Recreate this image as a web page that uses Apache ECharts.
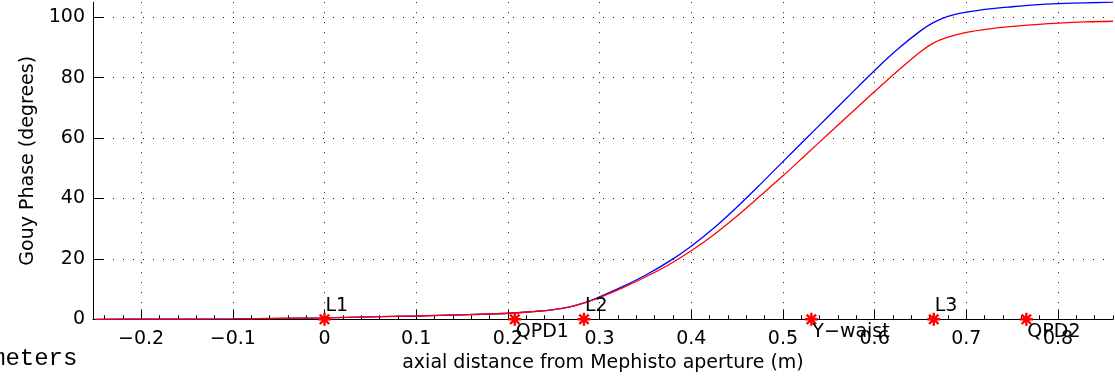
<!DOCTYPE html>
<html><head><meta charset="utf-8">
<script src="https://cdn.jsdelivr.net/npm/echarts@6/dist/echarts.min.js"></script>
<style>html,body{margin:0;padding:0;background:#fff}#c{width:1115px;height:380px}</style>
</head><body><div id="c"></div><script>
// axial distance (m)
const zPos = [-0.25, -0.2, -0.1, 0, 0.05, 0.1, 0.15, 0.2, 0.225, 0.25, 0.27, 0.283, 0.29, 0.3, 0.325, 0.35, 0.375, 0.4, 0.425, 0.45, 0.475, 0.5, 0.525, 0.55, 0.575, 0.6, 0.625, 0.65, 0.665, 0.68, 0.7, 0.725, 0.75, 0.775, 0.8, 0.83, 0.86];
// Gouy phase (degrees), blue trace
const gouyBlue = [0, 0.05, 0.15, 0.45, 0.8, 1.1, 1.5, 2.0, 2.5, 3.2, 4.3, 5.4, 6.2, 7.4, 10.8, 14.6, 19.0, 24.2, 30.3, 37.2, 44.6, 52.2, 59.8, 67.3, 74.9, 82.4, 89.4, 95.5, 98.4, 100.3, 101.7, 102.8, 103.5, 104.1, 104.5, 104.8, 105.0];
// Gouy phase (degrees), red trace
const gouyRed = [0, 0.05, 0.15, 0.45, 0.8, 1.1, 1.5, 2.0, 2.5, 3.2, 4.3, 5.4, 6.1, 7.2, 10.4, 14.0, 18.0, 22.7, 28.1, 34.2, 40.8, 47.5, 54.5, 61.5, 68.5, 75.4, 82.2, 88.6, 91.6, 93.4, 95.0, 96.2, 97.0, 97.6, 98.1, 98.5, 98.7];
// optics markers
const markerNames = ['L1', 'QPD1', 'L2', 'Y\u2212waist', 'L3', 'QPD2'];
const markerZ = [0, 0.2075, 0.283, 0.531, 0.6645, 0.7655];
// ticks
const xTickValues = [-0.2, -0.1, 0, 0.1, 0.2, 0.3, 0.4, 0.5, 0.6, 0.7, 0.8];
const xTickLabels = ['\u22120.2', '\u22120.1', '0', '0.1', '0.2', '0.3', '0.4', '0.5', '0.6', '0.7', '0.8'];
const yTickValues = [0, 20, 40, 60, 80, 100];
const yTickLabels = ['0', '20', '40', '60', '80', '100'];

const labelAbove = {'L1': true, 'L2': true, 'L3': true};
const FONT = 'DejaVu Sans';
const xMin = -0.2525, xMax = 0.86;

const minorX = [];
for (let k = -12; k <= 43; k++) { if (k % 5 !== 0) minorX.push(+(k * 0.02).toFixed(2)); }

const pairs = (ys) => zPos.map((z, i) => [z, ys[i]]);
const lookup = (vals, labels) => (v) => {
  const i = vals.findIndex(t => Math.abs(t - v) < 1e-9);
  return i >= 0 ? labels[i] : '';
};

const chart = echarts.init(document.getElementById('c'), null, {renderer: 'canvas'});
chart.setOption({
  animation: false,
  backgroundColor: '#fff',
  grid: {left: 93, top: 2.2, width: 1020, height: 317.1, containLabel: false},
  xAxis: [{
    type: 'value', min: xMin, max: xMax, position: 'bottom',
    name: 'axial distance from Mephisto aperture (m)', nameLocation: 'middle', nameGap: 31,
    nameTextStyle: {fontFamily: FONT, fontSize: 19, color: '#000'},
    axisLine: {show: true, onZero: false, lineStyle: {color: '#000', width: 1}},
    axisTick: {show: true, inside: true, length: 10, customValues: xTickValues, lineStyle: {color: '#000'}},
    axisLabel: {show: true, customValues: xTickValues, formatter: lookup(xTickValues, xTickLabels),
      fontFamily: FONT, fontSize: 19, color: '#000', margin: 10},
    splitLine: {show: true, lineStyle: {color: '#111', width: 1, type: [1, 9]}}
  }, {
    type: 'value', min: xMin, max: xMax, position: 'bottom', gridIndex: 0,
    axisLine: {show: false, onZero: false},
    axisTick: {show: true, inside: true, length: 4, customValues: minorX, lineStyle: {color: '#000'}},
    axisLabel: {show: false},
    splitLine: {show: false}
  }],
  yAxis: {
    type: 'value', min: 0, max: 105, position: 'left',
    name: 'Gouy Phase (degrees)', nameLocation: 'middle', nameGap: 54,
    nameTextStyle: {fontFamily: FONT, fontSize: 19, color: '#000'},
    axisLine: {show: true, onZero: false, lineStyle: {color: '#000', width: 1}},
    axisTick: {show: true, inside: true, length: 10, customValues: yTickValues, lineStyle: {color: '#000'}},
    axisLabel: {show: true, customValues: yTickValues, formatter: lookup(yTickValues, yTickLabels),
      fontFamily: FONT, fontSize: 19, color: '#000', margin: 8},
    splitLine: {show: true, lineStyle: {color: '#111', width: 1, type: [1, 9]}}
  },
  series: [{
    type: 'line', name: 'blue', data: pairs(gouyBlue), showSymbol: false, symbol: 'none',
    smooth: 0.3, lineStyle: {color: '#0000ff', width: 1.3}, z: 3
  }, {
    type: 'line', name: 'red', data: pairs(gouyRed), showSymbol: false, symbol: 'none',
    smooth: 0.3, lineStyle: {color: '#ff0000', width: 1.3}, z: 4
  }, {
    type: 'scatter', name: 'markers', z: 6,
    symbol: 'path://M0,-1L0,1M-1,0L1,0M-0.72,-0.72L0.72,0.72M-0.72,0.72L0.72,-0.72',
    symbolSize: 13,
    itemStyle: {color: 'rgba(0,0,0,0)', borderColor: '#ff0000', borderWidth: 2.4, opacity: 1},
    data: markerNames.map((n, i) => ({
      value: [markerZ[i], 0], name: n,
      label: {
        show: true, formatter: n, position: 'inside', align: 'left', verticalAlign: 'middle',
        offset: labelAbove[n] ? [1, -13] : [1, 13],
        fontFamily: FONT, fontSize: 19, color: '#000', textBorderWidth: 0, opacity: 1
      }
    }))
  }],
  graphic: [{
    type: 'text', left: -9, top: 347, z: 10,
    style: {text: 'meters', fontFamily: 'Liberation Mono', fontSize: 24, fill: '#000'}
  }]
});
</script></body></html>
